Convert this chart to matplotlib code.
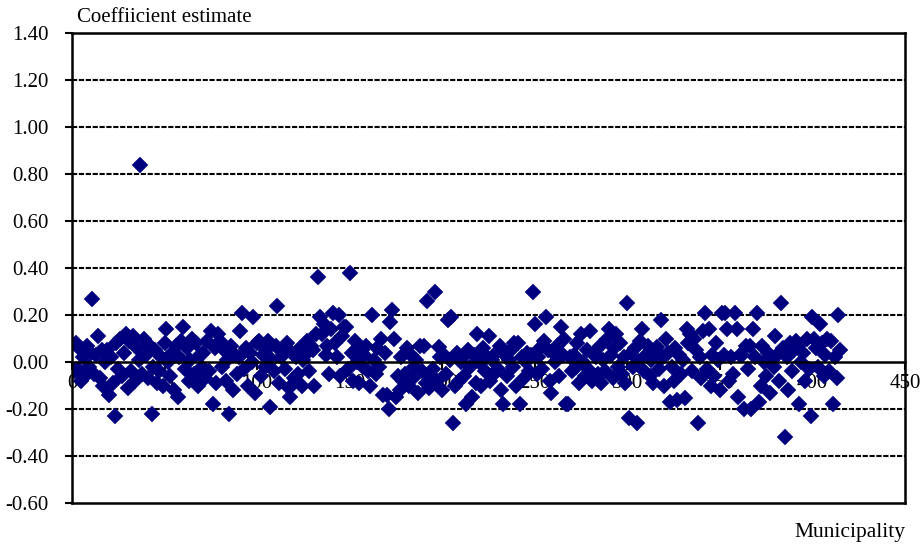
import matplotlib
matplotlib.use("Agg")
import matplotlib.pyplot as plt
import numpy as np

coef = [
    -0.04, 0.08, -0.03, 0.06, -0.08, 0.02, -0.06, 0.07, -0.02, 0.04,
    0.27, -0.05, 0.03, 0.11, -0.07, 0.05, -0.10, 0.00, 0.05, -0.14,
    0.02, -0.09, -0.23, 0.08, -0.03, 0.10, -0.06, 0.04, 0.12, -0.11,
    0.09, -0.04, 0.11, -0.08, 0.06, 0.01, 0.84, -0.05, 0.10, 0.03,
    -0.07, 0.07, -0.22, -0.02, 0.05, -0.09, -0.04, 0.02, -0.10, 0.08,
    0.14, 0.00, -0.06, 0.04, -0.12, 0.07, -0.15, 0.02, 0.09, 0.15,
    -0.03, 0.06, -0.08, 0.01, 0.10, -0.05, 0.08, -0.10, 0.03, -0.02,
    0.04, -0.07, 0.09, -0.04, 0.13, -0.18, 0.06, -0.09, 0.12, 0.09,
    -0.02, 0.05, -0.08, 0.01, -0.22, 0.07, -0.12, 0.03, -0.05, 0.02,
    0.13, 0.21, -0.03, 0.06, -0.10, 0.04, 0.00, 0.19, -0.13, 0.08,
    0.09, -0.06, 0.03, -0.02, 0.05, 0.09, -0.19, 0.01, -0.04, 0.07,
    0.24, -0.09, 0.02, 0.05, -0.03, 0.08, -0.11, -0.15, 0.04, -0.07,
    0.02, -0.05, 0.06, -0.10, 0.01, 0.03, 0.09, -0.04, 0.07, 0.05,
    -0.10, 0.12, 0.36, 0.19, 0.12, 0.16, 0.03, 0.07, -0.05, 0.14,
    0.21, 0.08, 0.02, 0.20, -0.06, 0.11, 0.15, 0.15, -0.03, 0.38,
    0.04, -0.08, 0.09, 0.00, -0.09, 0.05, -0.02, 0.03, 0.07, -0.04,
    -0.10, 0.20, 0.01, -0.05, 0.06, -0.02, 0.10, -0.14, 0.04, -0.14,
    -0.20, 0.17, 0.22, 0.10, -0.15, -0.06, -0.12, 0.02, -0.08, -0.05,
    0.06, -0.10, 0.03, -0.07, -0.02, 0.01, -0.13, 0.07, -0.04, 0.07,
    -0.09, 0.26, -0.11, -0.06, -0.03, 0.30, -0.08, 0.065, 0.02, -0.12,
    0.03, -0.05, 0.18, 0.01, 0.19, -0.26, -0.10, 0.04, -0.08, 0.00,
    0.02, -0.06, -0.18, 0.05, -0.02, -0.15, 0.03, -0.09, 0.12, 0.00,
    -0.10, 0.06, -0.04, 0.02, 0.11, -0.08, 0.01, -0.05, 0.04, -0.03,
    0.07, -0.12, -0.18, 0.03, -0.06, 0.01, 0.05, -0.02, 0.08, -0.10,
    0.08, -0.18, 0.02, -0.07, 0.00, 0.04, -0.04, 0.03, 0.30, 0.16,
    -0.05, 0.02, 0.06, -0.03, 0.09, 0.19, 0.05, -0.08, -0.13, 0.04,
    0.00, 0.07, -0.06, 0.15, 0.03, 0.10, -0.18, -0.18, 0.02, -0.04,
    0.03, -0.02, 0.08, -0.09, 0.12, 0.00, -0.06, 0.05, -0.03, 0.13,
    -0.08, 0.04, 0.02, -0.05, 0.07, -0.09, 0.01, -0.04, 0.10, 0.14,
    0.03, -0.07, 0.06, 0.12, -0.02, 0.08, -0.05, 0.02, -0.09, 0.25,
    -0.24, 0.04, -0.02, 0.06, -0.26, 0.00, 0.09, 0.14, -0.04, 0.03,
    0.07, -0.06, 0.01, -0.09, 0.05, 0.065, -0.03, 0.18, 0.02, -0.10,
    0.10, 0.04, -0.17, -0.02, -0.08, 0.06, -0.16, 0.03, -0.05, 0.01,
    -0.155, 0.14, 0.08, 0.12, -0.04, 0.10, 0.05, -0.26, 0.02, -0.07,
    0.13, 0.21, -0.03, 0.14, -0.10, 0.03, -0.06, 0.08, 0.01, -0.12,
    0.21, 0.03, 0.21, 0.14, -0.08, 0.02, -0.05, 0.21, 0.14, -0.15,
    0.03, 0.03, -0.20, 0.07, -0.03, 0.07, -0.20, 0.14, 0.02, 0.21,
    -0.17, -0.10, 0.07, 0.00, -0.06, 0.04, -0.13, 0.01, -0.02, 0.11,
    0.03, -0.08, 0.25, 0.06, -0.32, 0.02, -0.12, 0.08, -0.04, 0.05,
    0.09, 0.07, -0.18, 0.00, 0.04, -0.08, 0.10, -0.03, -0.23, 0.19,
    0.10, 0.06, -0.02, 0.16, 0.08, -0.06, 0.03, 0.10, -0.04, 0.09,
    -0.18, 0.02, -0.07, 0.20, 0.05,
]
municipality = list(range(1, len(coef) + 1))

yticks = [-0.60, -0.40, -0.20, 0.00, 0.20, 0.40, 0.60, 0.80, 1.00, 1.20, 1.40]
xticks = [0, 50, 100, 150, 200, 250, 300, 350, 400, 450]

plt.rcParams['font.family'] = ['Liberation Serif', 'DejaVu Serif']

fig = plt.figure(figsize=(9.23, 5.45), dpi=100)
ax = fig.add_axes([72/923, 1-503/545, (905-72)/923, (503-33)/545])

ax.set_xlim(0, 450)
ax.set_ylim(-0.6, 1.4)

for yv in yticks:
    if yv not in (0.0, -0.6, 1.4):
        ax.axhline(yv, color='black', lw=1.5, ls=(0, (2.5, 0.8)), zorder=1)

ax.plot(municipality, coef, ls='none', marker='D', ms=8.3, color='#00007f',
        markeredgecolor='#00007f', markeredgewidth=0.3, zorder=2)

ax.spines['bottom'].set_position(('data', 0))
for s in ['left', 'right', 'top', 'bottom']:
    ax.spines[s].set_linewidth(1.8)
    ax.spines[s].set_color('black')
ax.axhline(-0.6, color='black', lw=1.8, clip_on=False, zorder=4)

ax.set_yticks(yticks)
ax.set_yticklabels([f"{v:.2f}" for v in yticks])
ax.set_xticks(xticks)
ax.set_xticklabels([str(v) for v in xticks])
ax.tick_params(axis='y', direction='out', length=5, width=1.5, labelsize=15, pad=12)
ax.tick_params(axis='x', direction='out', length=6, width=1.5, labelsize=15, pad=3)

fig.text(77/923, 1-22/545, "Coeffiicient estimate", fontsize=15, ha='left', va='baseline')
fig.text(905/923, 1-537/545, "Municipality", fontsize=15.5, ha='right', va='baseline')

fig.savefig("out.png", dpi=100)
